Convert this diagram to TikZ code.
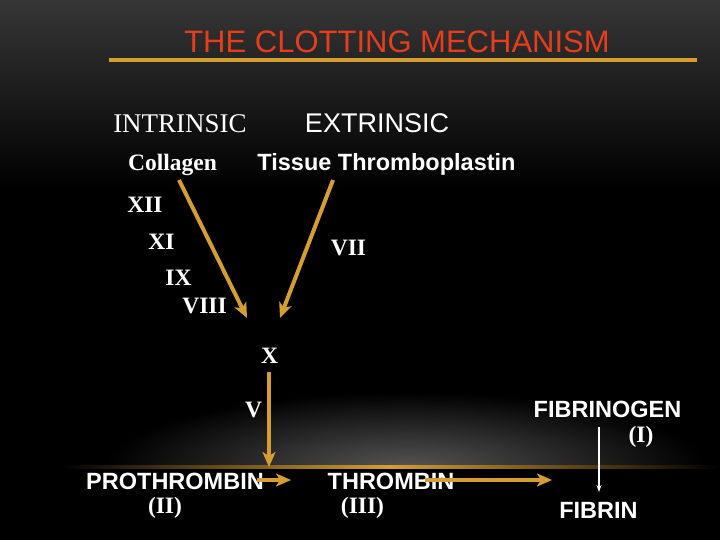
\documentclass[tikz,border=0pt]{standalone}
\usepackage{fontspec}
\setmainfont{Liberation Serif}
\setsansfont{Liberation Sans}
\usetikzlibrary{arrows.meta}

\definecolor{clotgold}{RGB}{214,158,46}
\definecolor{titlered}{RGB}{230,62,26}
\definecolor{bgtop}{RGB}{54,54,54}
\definecolor{glowgray}{RGB}{85,85,85}

\tikzset{
  factor/.style={text=white, font=\bfseries\fontsize{23.5}{28}\selectfont, anchor=base, inner sep=0pt},
  protein/.style={text=white, font=\sffamily\bfseries\fontsize{23.5}{28}\selectfont, anchor=base, inner sep=0pt},
  pathway/.style={text=white, anchor=base, inner sep=0pt},
  goldarrow/.style={draw=clotgold, line width=4pt, -{Stealth[length=15pt,width=13pt,inset=4pt]}},
  thinarrow/.style={draw=white, line width=1.2pt, -{Stealth[length=7pt,width=5pt]}},
}

\begin{document}
\begin{tikzpicture}[x=1pt,y=-1pt]
  \useasboundingbox (0,0) rectangle (720,540);
  % background
  \fill[black] (0,0) rectangle (720,540);
  \shade[top color=bgtop, bottom color=black] (0,0) rectangle (720,190);
  \begin{scope}
    \clip (0,380) rectangle (720,467);
    \shade[inner color=glowgray, outer color=black] (406,467) ellipse [x radius=300pt, y radius=75pt];
  \end{scope}
  \shade[left color=black, right color=black, middle color=clotgold] (60,465.8) rectangle (720,468.2);

  % title
  \node[font=\sffamily\fontsize{31}{36}\selectfont, text=titlered, anchor=base, inner sep=0pt] (title) at (397,52.7) {THE CLOTTING MECHANISM};
  \coordinate (ruleL) at (109,60);
  \coordinate (ruleR) at (697,60);
  \draw[clotgold, line width=4pt] (ruleL) -- (ruleR);

  % pathways
  \node[pathway, font=\fontsize{27}{32}\selectfont] (intrinsic) at (180,133) {INTRINSIC};
  \node[pathway, font=\sffamily\fontsize{27}{32}\selectfont] (extrinsic) at (377,133) {EXTRINSIC};
  \node[factor] (collagen) at (172.5,170.7) {Collagen};
  \node[protein] (tissue) at (386.5,170.7) {Tissue Thromboplastin};

  % factors
  \node[factor] (f12) at (145,213) {XII};
  \node[factor] (f11) at (161.5,249) {XI};
  \node[factor] (f9) at (178.5,285) {IX};
  \node[factor] (f8) at (204.5,313) {VIII};
  \node[factor] (f7) at (348.5,255) {VII};
  \node[factor] (f10) at (269.5,363) {X};
  \node[factor] (f5) at (253.5,417) {V};

  % products
  \node[protein] (prothrombin) at (175,489) {PROTHROMBIN};
  \node[factor] (f2) at (165,513) {(II)};
  \node[protein] (thrombin) at (391,489) {THROMBIN};
  \node[factor] (f3) at (362.5,513) {(III)};
  \node[protein] (fibrinogen) at (607.5,417) {FIBRINOGEN};
  \node[factor] (f1) at (641,442) {(I)};
  \node[protein] (fibrin) at (598.5,518) {FIBRIN};

  % arrows
  \coordinate (colA) at (179,180);
  \coordinate (colB) at (247,318);
  \coordinate (tisA) at (333,180);
  \coordinate (tisB) at (280,318);
  \coordinate (tenA) at (269,372);
  \coordinate (tenB) at (269,467);
  \coordinate (proA) at (257,480);
  \coordinate (proB) at (291,480);
  \coordinate (thrA) at (425,480);
  \coordinate (thrB) at (552,480);
  \coordinate (fibA) at (599,427);
  \coordinate (fibB) at (599,492);
  \draw[goldarrow] (colA) -- (colB);
  \draw[goldarrow] (tisA) -- (tisB);
  \draw[goldarrow] (tenA) -- (tenB);
  \draw[goldarrow] (proA) -- (proB);
  \draw[goldarrow] (thrA) -- (thrB);
  \draw[thinarrow] (fibA) -- (fibB);
\end{tikzpicture}
\end{document}
